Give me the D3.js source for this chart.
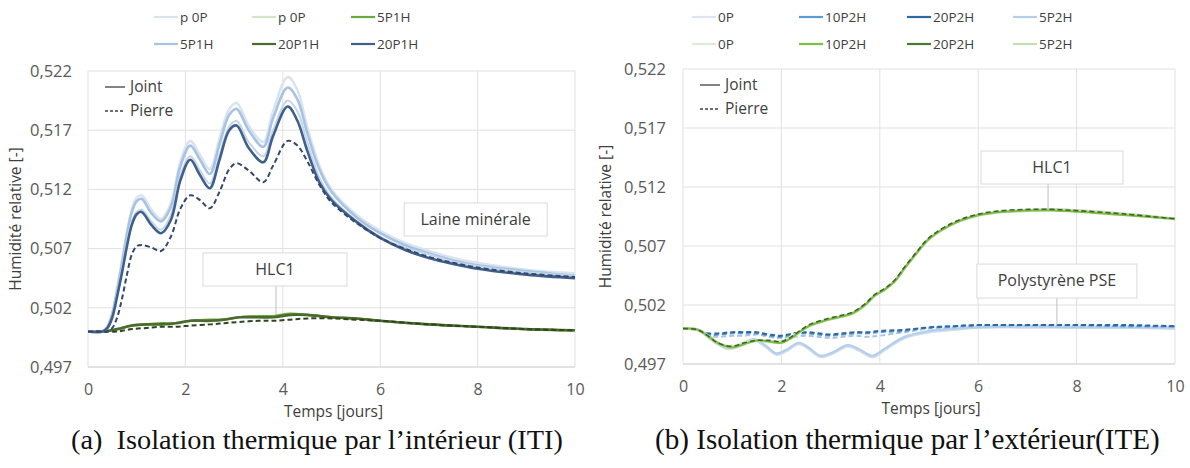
<!DOCTYPE html>
<html><head><meta charset="utf-8">
<script src="https://cdn.jsdelivr.net/npm/d3@7"></script>
<style>
html,body{margin:0;padding:0;background:#fff;}
svg{display:block;font-family:"Open Sans","Noto Sans",sans-serif;}
</style></head>
<body>
<svg id="chart" width="1190" height="468"></svg>
<script>
// ---------- DATA ----------
const xTicks = [0, 2, 4, 6, 8, 10];
const yTicks = [0.497, 0.502, 0.507, 0.512, 0.517, 0.522];
const xTitle = "Temps [jours]";
const yTitle = "Humidité relative [-]";
const captionA = "(a)\u2002Isolation thermique par l\u2019intérieur (ITI)";
const captionB = "(b) Isolation thermique par\u2009l\u2019extérieur(ITE)";

// (a) ITI — Laine minérale (blue) time axis
const timeA = [0,0.3,0.4,0.5,0.6,0.7,0.8,0.9,1.0,1.1,1.3,1.5,1.7,1.9,2.1,2.3,2.5,2.7,2.9,3.05,3.3,3.6,3.8,4.1,4.3,4.5,4.75,5,5.5,6,6.5,7,7.5,8,9,10];
const itiP0PJoint   = [0.5000,0.5000,0.5004,0.5016,0.5037,0.5060,0.5084,0.5103,0.5113,0.5115,0.5103,0.5095,0.5108,0.5144,0.5161,0.5149,0.5137,0.5163,0.5188,0.5193,0.5174,0.5160,0.5186,0.5215,0.5204,0.5173,0.5140,0.5120,0.5099,0.5085,0.5075,0.5068,0.5062,0.5058,0.5052,0.5049];
const iti5P1HJoint  = [0.5000,0.5000,0.5004,0.5015,0.5035,0.5058,0.5082,0.5101,0.5110,0.5112,0.5100,0.5093,0.5105,0.5140,0.5157,0.5145,0.5133,0.5158,0.5183,0.5188,0.5170,0.5156,0.5180,0.5206,0.5196,0.5168,0.5137,0.5118,0.5097,0.5083,0.5073,0.5066,0.5060,0.5056,0.5051,0.5047];
const iti5P1HPierre = [0.5000,0.5000,0.5003,0.5013,0.5032,0.5054,0.5076,0.5093,0.5101,0.5103,0.5093,0.5086,0.5098,0.5132,0.5148,0.5136,0.5125,0.5149,0.5173,0.5178,0.5160,0.5148,0.5170,0.5195,0.5186,0.5160,0.5130,0.5113,0.5094,0.5080,0.5071,0.5065,0.5059,0.5055,0.5050,0.5047];
const iti20P1HJoint = [0.5000,0.5000,0.5003,0.5012,0.5030,0.5050,0.5072,0.5090,0.5099,0.5101,0.5090,0.5083,0.5094,0.5128,0.5145,0.5132,0.5121,0.5145,0.5170,0.5174,0.5155,0.5143,0.5165,0.5190,0.5178,0.5153,0.5126,0.5111,0.5093,0.5079,0.5069,0.5062,0.5057,0.5053,0.5048,0.5045];
const iti20P1HPierre= [0.5000,0.5000,0.5000,0.5003,0.5012,0.5028,0.5048,0.5065,0.5072,0.5073,0.5071,0.5068,0.5080,0.5104,0.5115,0.5111,0.5104,0.5118,0.5137,0.5142,0.5136,0.5126,0.5140,0.5161,0.5157,0.5144,0.5124,0.5109,0.5092,0.5079,0.5070,0.5063,0.5058,0.5054,0.5049,0.5046];

// (a) ITI — HLC1 (green)
const timeG = [0,0.35,0.6,0.9,1.2,1.5,1.8,2.1,2.5,2.8,3.1,3.5,3.8,4.15,4.5,5,5.5,6,7,8,9,10];
const itiGP0PJoint    = [0.5000,0.5000,0.5002,0.5005,0.5006,0.5006,0.5007,0.5009,0.5009,0.5010,0.5012,0.5012,0.5013,0.5014,0.5014,0.5012,0.5011,0.5009,0.5006,0.5004,0.5002,0.5001];
const itiG5P1HJoint   = [0.5000,0.5000,0.5002,0.5005,0.5006,0.5007,0.5007,0.5009,0.5010,0.5010,0.5012,0.5013,0.5013,0.5015,0.5014,0.5012,0.5011,0.5009,0.5006,0.5004,0.5002,0.5001];
const itiG20P1HJoint  = [0.5000,0.5000,0.5002,0.5005,0.5006,0.5006,0.5007,0.5009,0.5009,0.5010,0.5012,0.5012,0.5012,0.5014,0.5014,0.5012,0.5011,0.5009,0.5006,0.5004,0.5002,0.5001];
const itiG20P1HPierre = [0.5000,0.5000,0.5000,0.5002,0.5003,0.5004,0.5004,0.5005,0.5006,0.5007,0.5008,0.5009,0.5009,0.5010,0.5011,0.5011,0.5010,0.5009,0.5006,0.5004,0.5002,0.5001];

// (b) ITE — HLC1 (green)
const timeR = [0,0.3,0.5,0.7,1.0,1.25,1.5,1.75,2.0,2.2,2.4,2.6,2.9,3.2,3.45,3.7,3.9,4.1,4.3,4.5,4.75,5,5.5,6,6.5,7,7.5,8,9,10];
const iteG0P     = [0.5000,0.4999,0.4994,0.4988,0.4985,0.4988,0.4990,0.4989,0.4989,0.4993,0.4998,0.5003,0.5007,0.5010,0.5013,0.5020,0.5028,0.5033,0.5040,0.5051,0.5064,0.5076,0.5089,0.5096,0.5099,0.5100,0.5101,0.5100,0.5097,0.5093];
const iteG5P2H   = [0.5000,0.4999,0.4993,0.4987,0.4984,0.4987,0.4990,0.4989,0.4988,0.4992,0.4998,0.5003,0.5007,0.5010,0.5013,0.5020,0.5028,0.5033,0.5040,0.5051,0.5064,0.5076,0.5089,0.5096,0.5099,0.5100,0.5101,0.5100,0.5097,0.5093];
const iteG10P2H  = [0.5000,0.4999,0.4994,0.4988,0.4984,0.4987,0.4990,0.4989,0.4988,0.4992,0.4998,0.5003,0.5007,0.5010,0.5013,0.5020,0.5028,0.5033,0.5040,0.5051,0.5064,0.5076,0.5089,0.5096,0.5099,0.5100,0.5100,0.5099,0.5096,0.5093];
const iteG20P2H  = [0.5000,0.4999,0.4994,0.4988,0.4985,0.4988,0.4990,0.4990,0.4989,0.4993,0.4999,0.5004,0.5008,0.5011,0.5014,0.5021,0.5029,0.5034,0.5041,0.5052,0.5065,0.5077,0.5090,0.5097,0.5100,0.5101,0.5101,0.5100,0.5097,0.5093];

// (b) ITE — Polystyrène PSE (blue)
const timeRB = [0,0.3,0.5,0.7,0.9,1.15,1.45,1.7,1.9,2.1,2.35,2.55,2.8,3.05,3.35,3.6,3.85,4.1,4.5,5,5.5,6,7,8,9,10];
const iteB0P   = [0.5000,0.4999,0.4994,0.4987,0.4983,0.4985,0.4990,0.4984,0.4978,0.4981,0.4987,0.4983,0.4976,0.4979,0.4985,0.4981,0.4976,0.4982,0.4992,0.4997,0.4999,0.5001,0.5001,0.5001,0.5001,0.5000];
const iteB5P2H = [0.5000,0.4999,0.4995,0.4988,0.4984,0.4986,0.4991,0.4985,0.4979,0.4982,0.4988,0.4984,0.4977,0.4980,0.4986,0.4982,0.4977,0.4983,0.4993,0.4998,0.5000,0.5001,0.5002,0.5001,0.5001,0.5001];
const timeRD = [0,0.3,0.5,0.75,1.0,1.25,1.5,1.75,2.0,2.25,2.5,2.75,3.0,3.25,3.5,3.75,4.0,4.5,5,5.5,6,7,8,9,10];
const iteB5P2HPierre  = [0.5000,0.4999,0.4994,0.4993,0.4994,0.4994,0.4995,0.4993,0.4992,0.4993,0.4994,0.4993,0.4992,0.4993,0.4994,0.4993,0.4994,0.4997,0.5000,0.5001,0.5002,0.5002,0.5002,0.5002,0.5001];
const iteB10P2HPierre = [0.5000,0.4999,0.4995,0.4995,0.4996,0.4996,0.4996,0.4994,0.4993,0.4995,0.4996,0.4995,0.4994,0.4995,0.4996,0.4996,0.4997,0.4998,0.5001,0.5002,0.5003,0.5003,0.5003,0.5002,0.5002];
const iteB20P2HPierre = [0.5000,0.4999,0.4996,0.4996,0.4997,0.4997,0.4997,0.4995,0.4994,0.4996,0.4997,0.4996,0.4995,0.4996,0.4997,0.4997,0.4998,0.4999,0.5001,0.5002,0.5003,0.5003,0.5003,0.5003,0.5002];

// legends
const legendA = [
  {name:"p 0P",  color:"#d9e4f0"}, {name:"p 0P",  color:"#d2e5c9"}, {name:"5P1H",  color:"#6aaa3a"},
  {name:"5P1H",  color:"#a8c3e2"}, {name:"20P1H", color:"#4a6a2e"}, {name:"20P1H", color:"#3f5f8c"}
];
const legendB = [
  {name:"0P",    color:"#dbe6f2"}, {name:"10P2H", color:"#5b9bd5"}, {name:"20P2H", color:"#2f67a3"}, {name:"5P2H", color:"#b4cfe9"},
  {name:"0P",    color:"#e2e8d9"}, {name:"10P2H", color:"#7cc043"}, {name:"20P2H", color:"#4a7a2c"}, {name:"5P2H", color:"#c6dab3"}
];
const styleLabels = ["Joint", "Pierre"];
const annotationsA = [{text:"Laine minérale", t:7.96, v:0.50946, w:143, h:33, lead:null},
                      {text:"HLC1", t:3.84, v:0.50524, w:144, h:33, leadT:3.86, leadV:0.5014}];
const annotationsB = [{text:"HLC1", t:7.5, v:0.51365, w:142, h:33, leadT:7.42, leadV:0.5101},
                      {text:"Polystyrène PSE", t:7.6, v:0.50403, w:160, h:34, leadT:7.6, leadV:0.50035}];

// ---------- DRAW ----------
const svg = d3.select("#chart");
const fmt = v => d3.format(".3f")(v).replace(".", ",");
const TXT = "#404040", TICK = "#595959", GRID = "#e1e1e1";

function panel(cfg) {
  const x = d3.scaleLinear().domain([0, 10]).range([cfg.x0, cfg.x1]);
  const y = d3.scaleLinear().domain([0.497, 0.522]).range([cfg.y0, cfg.y1]);
  const g = svg.append("g");
  // grid
  g.append("g").selectAll("line").data(yTicks).join("line")
    .attr("x1", cfg.x0).attr("x2", cfg.x1).attr("y1", d => y(d)).attr("y2", d => y(d))
    .attr("stroke", GRID).attr("stroke-width", 1);
  g.append("g").selectAll("line").data(xTicks).join("line")
    .attr("x1", d => x(d)).attr("x2", d => x(d)).attr("y1", cfg.y0).attr("y2", cfg.y1)
    .attr("stroke", GRID).attr("stroke-width", 1);
  g.append("line").attr("x1", cfg.x0).attr("x2", cfg.x1).attr("y1", cfg.y0).attr("y2", cfg.y0)
    .attr("stroke", "#d4d4d4");
  // axes with d3
  const ax = d3.axisBottom(x).tickValues(xTicks).tickSize(0).tickPadding(17).tickFormat(d3.format("d"));
  const xa = g.append("g").attr("transform", `translate(0,${cfg.y0})`).call(ax);
  xa.select(".domain").remove();
  xa.selectAll("text").attr("fill", TICK).style("font-size", "16px").style("font-family", "Open Sans");
  const ay = d3.axisLeft(y).tickValues(yTicks).tickSize(0).tickPadding(cfg.ypad).tickFormat(fmt);
  const ya = g.append("g").attr("transform", `translate(${cfg.x0},0)`).call(ay);
  ya.select(".domain").remove();
  ya.selectAll("text").attr("fill", TICK).style("font-size", "16.5px").style("font-family", "Open Sans");
  // titles
  g.append("text").attr("x", (cfg.x0 + cfg.x1) / 2 + 2).attr("y", cfg.y0 + 46)
    .attr("text-anchor", "middle").attr("dominant-baseline", "middle")
    .attr("fill", TXT).style("font-size", "15.5px").text(xTitle);
  g.append("text").attr("transform", `translate(${cfg.ytx},${(cfg.y0 + cfg.y1) / 2}) rotate(-90)`)
    .attr("text-anchor", "middle").attr("dominant-baseline", "middle")
    .attr("fill", TXT).style("font-size", "15.5px").text(yTitle);
  // clip
  const cid = "clip" + cfg.x0;
  svg.append("clipPath").attr("id", cid).append("rect")
    .attr("x", cfg.x0).attr("y", cfg.y1 - 2).attr("width", cfg.x1 - cfg.x0 + 2).attr("height", cfg.y0 - cfg.y1 + 4);
  const lg = g.append("g").attr("clip-path", `url(#${cid})`);
  const line = d3.line().x(d => x(d[0])).y(d => y(d[1])).curve(d3.curveCatmullRom.alpha(0.5));
  cfg.series.forEach(s => {
    lg.append("path").datum(d3.zip(s.t, s.v)).attr("d", line)
      .attr("fill", "none").attr("stroke", s.color).attr("stroke-width", s.w || 2.2)
      .attr("stroke-dasharray", s.dash ? "5,3" : null).attr("stroke-linecap", "butt");
  });
  // annotations
  cfg.ann.forEach(a => {
    const cx = x(a.t), cy = y(a.v);
    if (a.leadT != null) {
      g.append("line").attr("x1", x(a.leadT)).attr("x2", x(a.leadT))
        .attr("y1", cy + a.h / 2).attr("y2", y(a.leadV)).attr("stroke", "#bfbfbf").attr("stroke-width", 1);
    }
    g.append("rect").attr("x", cx - a.w / 2).attr("y", cy - a.h / 2).attr("width", a.w).attr("height", a.h)
      .attr("fill", "#fff").attr("stroke", "#d9d9d9").attr("stroke-width", 1);
    g.append("text").attr("x", cx).attr("y", cy + 1).attr("text-anchor", "middle").attr("dominant-baseline", "middle")
      .attr("fill", TXT).style("font-size", "16px").text(a.text);
  });
  // Joint / Pierre legend
  styleLabels.forEach((lab, i) => {
    const ly = cfg.y1 + 16 + i * 24;
    g.append("line").attr("x1", cfg.x0 + 17).attr("x2", cfg.x0 + 37).attr("y1", ly).attr("y2", ly)
      .attr("stroke", "#404040").attr("stroke-width", 1.3).attr("stroke-dasharray", i ? "3,2" : null);
    g.append("text").attr("x", cfg.x0 + 42).attr("y", ly + 1).attr("dominant-baseline", "middle")
      .attr("fill", TXT).style("font-size", "15.5px").text(lab);
  });
  // top legend
  const per = cfg.legend.length / 2;
  cfg.legend.forEach((d, i) => {
    const col = i % per, row = Math.floor(i / per);
    const lx = cfg.legX[col], ly = 17 + row * 27;
    svg.append("line").attr("x1", lx).attr("x2", lx + 24).attr("y1", ly).attr("y2", ly)
      .attr("stroke", d.color).attr("stroke-width", 2.2);
    svg.append("text").attr("x", lx + 26).attr("y", ly + 1).attr("dominant-baseline", "middle")
      .attr("fill", TXT).style("font-size", "13.5px").text(d.name);
  });
}

panel({
  x0: 88, x1: 575, y0: 367, y1: 71, ypad: 16, ytx: 17,
  legend: legendA, legX: [154, 252, 351],
  ann: annotationsA,
  series: [
    {t: timeG, v: itiGP0PJoint, color: "#d2e5c9"},
    {t: timeG, v: itiG5P1HJoint, color: "#6aaa3a"},
    {t: timeG, v: itiG20P1HJoint, color: "#4a6a2e", w: 2.6},
    {t: timeG, v: itiG20P1HPierre, color: "#2f4520", dash: true, w: 2},
    {t: timeA, v: itiP0PJoint, color: "#d9e4f0", w: 2.6},
    {t: timeA, v: iti5P1HJoint, color: "#a8c3e2", w: 2.6},
    {t: timeA, v: iti5P1HPierre, color: "#c5d6ea", w: 2},
    {t: timeA, v: iti20P1HJoint, color: "#3f5f8c", w: 2.6},
    {t: timeA, v: iti20P1HPierre, color: "#34496b", dash: true, w: 2}
  ]
});

panel({
  x0: 683, x1: 1175, y0: 364, y1: 69, ypad: 17, ytx: 607,
  legend: legendB, legX: [692, 799, 907, 1013],
  ann: annotationsB,
  series: [
    {t: timeRB, v: iteB0P, color: "#cddcee", w: 2.6},
    {t: timeRB, v: iteB5P2H, color: "#b4cfe9", w: 2.2},
    {t: timeRD, v: iteB5P2HPierre, color: "#a9c4e4", dash: true, w: 2},
    {t: timeRD, v: iteB10P2HPierre, color: "#5b9bd5", dash: true, w: 2},
    {t: timeRD, v: iteB20P2HPierre, color: "#2f67a3", dash: true, w: 2},
    {t: timeR, v: iteG0P, color: "#dbe6cf", w: 3},
    {t: timeR, v: iteG5P2H, color: "#c6dab3", w: 2.6},
    {t: timeR, v: iteG10P2H, color: "#7cc043", w: 2},
    {t: timeR, v: iteG20P2H, color: "#3f6427", dash: true, w: 1.6}
  ]
});

// captions
function caption(text, left, right) {
  const t = svg.append("text").attr("x", left).attr("y", 449)
    .style("font-family", "'Liberation Serif','DejaVu Serif',serif").style("font-size", "23px")
    .attr("fill", "#111").text(text);
  const w = t.node().getComputedTextLength();
  const fs = 23 * (right - left) / w;
  t.style("font-size", fs.toFixed(2) + "px");
}
caption(captionA, 71, 563);
caption(captionB, 655, 1160);
</script>
</body></html>
